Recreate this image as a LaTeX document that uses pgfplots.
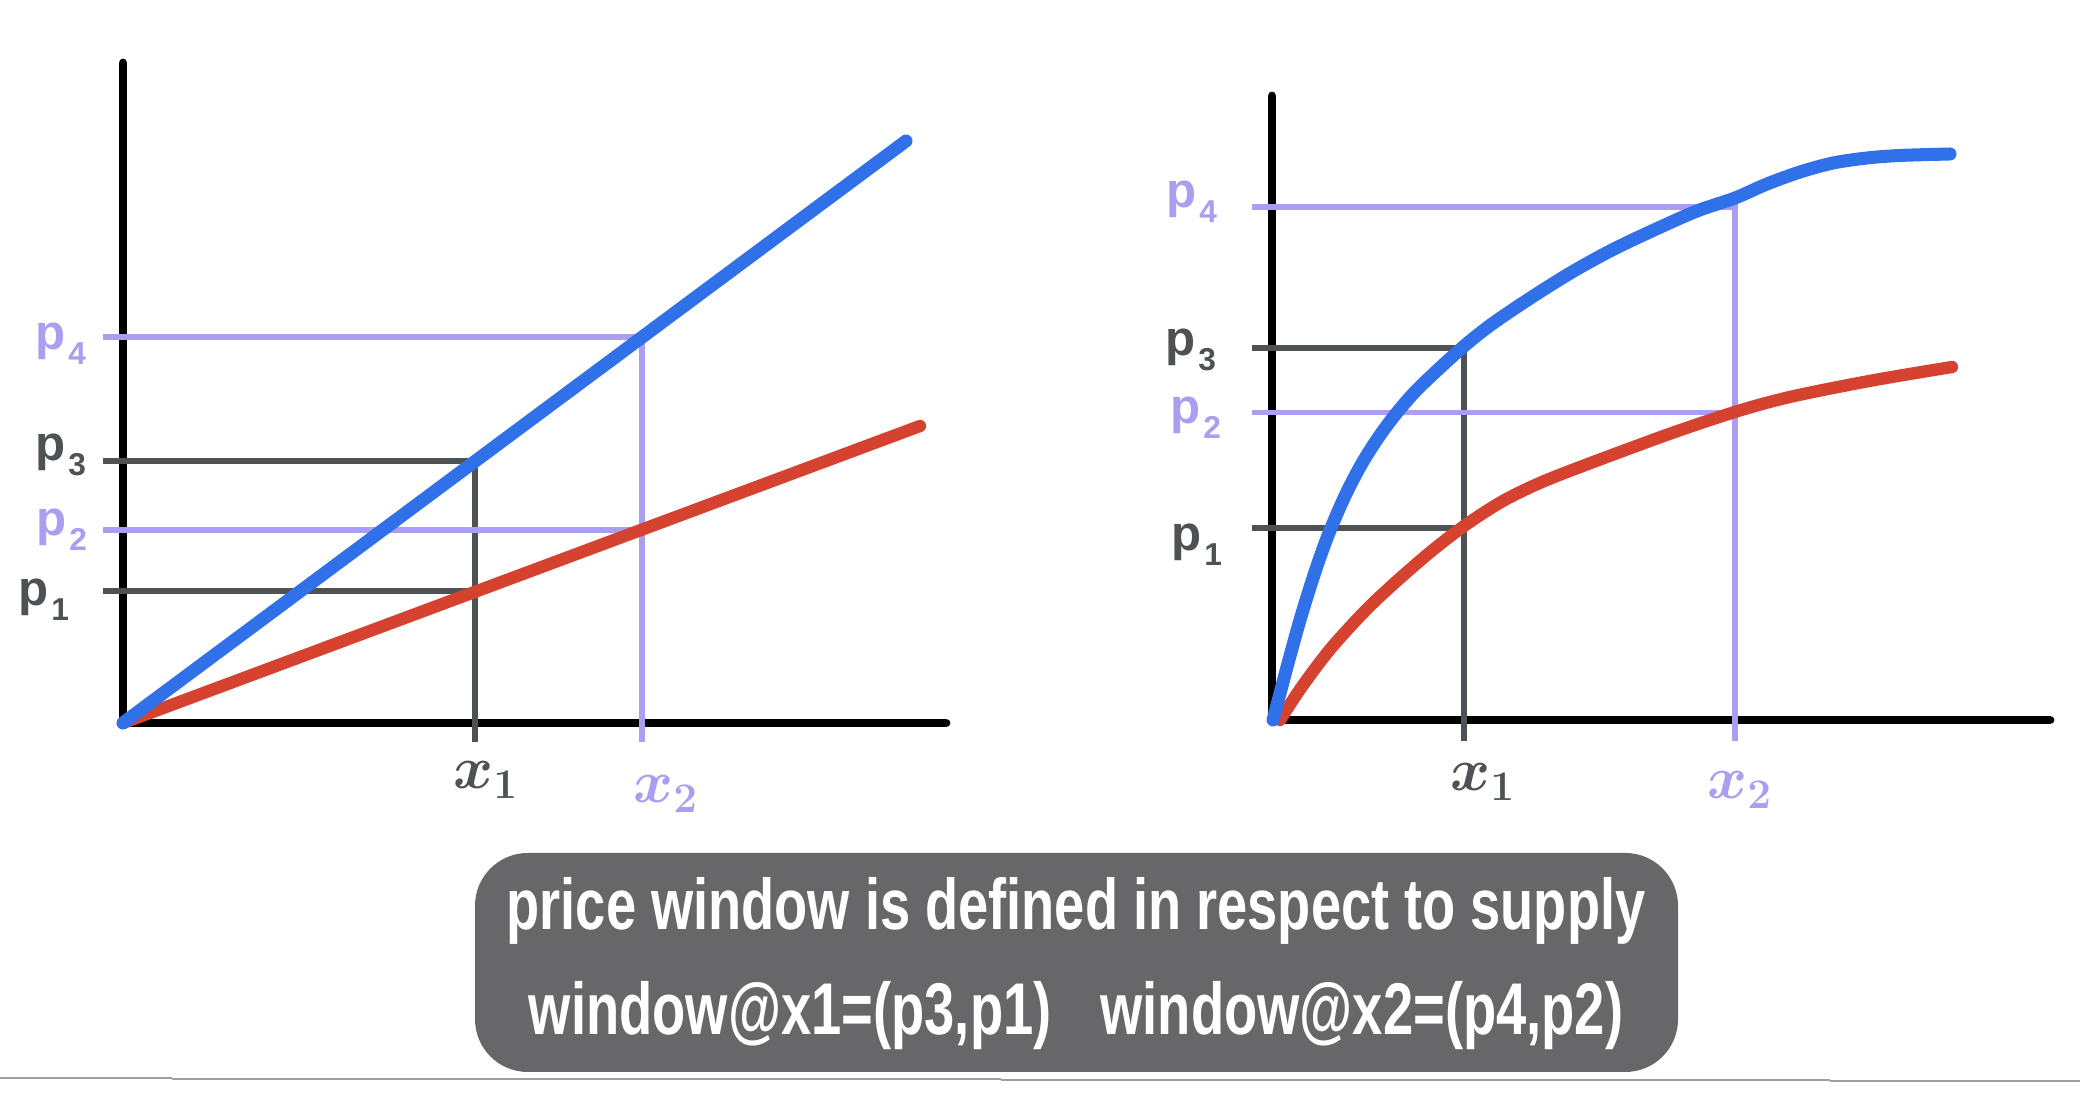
\documentclass[border=0pt]{standalone}
\usepackage{fontspec}
\setmainfont{Liberation Sans}
\usepackage{graphicx}
\usepackage{pgfplots}
\pgfplotsset{compat=1.18}

\definecolor{supblue}{RGB}{48,112,232}
\definecolor{supred}{RGB}{214,66,48}
\definecolor{lav}{RGB}{170,158,240}
\definecolor{guide}{RGB}{78,82,84}
\definecolor{capbg}{RGB}{103,103,105}

% hand-written style labels
\newcommand\plab[1]{{\fontsize{14}{14}\selectfont\bfseries p\kern0.05em\raisebox{-0.3em}{\fontsize{9}{9}\selectfont #1}}}
\newcommand\xlab[1]{{\fontsize{17}{17}\selectfont\boldmath$x_{#1}$}}

\pgfplotsset{
  sketch/.style={
    x=0.01cm, y=0.01cm,
    anchor=south west,
    axis lines=left,
    axis line style={-, line width=2.5pt, line cap=round, black},
    xtick=\empty, ytick=\empty,
    clip=false,
  },
  guideline/.style={guide, line width=1.5pt, no marks},
  lavline/.style={lav, line width=1.5pt, no marks},
  bluecurve/.style={supblue, line width=3.7pt, line cap=round, line join=round, no marks},
  redcurve/.style={supred, line width=3.5pt, line cap=round, line join=round, no marks},
}

\begin{document}
\begin{tikzpicture}[x=0.01cm, y=0.01cm]
\useasboundingbox (0,0) rectangle (2080,1110);

% left panel: linear supply
\begin{axis}[sketch, at={(123,387)}, xmin=0, xmax=823, ymin=0, ymax=660]
\addplot[guideline] coordinates {(-20,262) (352,262) (352,-19)};
\addplot[guideline] coordinates {(-20,132) (352,132)};
\addplot[lavline] coordinates {(-20,386) (519,386) (519,-19)};
\addplot[lavline] coordinates {(-20,193) (519,193)};
\addplot[redcurve] coordinates {(0,0) (797,297)};
\addplot[bluecurve] coordinates {(0,0) (783,582)};
\node[text=lav] at (axis cs:-62,379) {\plab{4}};
\node[text=guide] at (axis cs:-62,268) {\plab{3}};
\node[text=lav] at (axis cs:-61,193) {\plab{2}};
\node[text=guide] at (axis cs:-79,123) {\plab{1}};
\node[text=guide] at (axis cs:363,-57) {\xlab{1}};
\node[text=lav] at (axis cs:543,-71) {\xlab{2}};
\end{axis}

% right panel: concave supply
\begin{axis}[sketch, at={(1272,390)}, xmin=0, xmax=778, ymin=0, ymax=624]
\addplot[guideline] coordinates {(-20,372) (192,372) (192,-21)};
\addplot[guideline] coordinates {(-20,192) (192,192)};
\addplot[lavline] coordinates {(-20,513) (463,513) (463,-21)};
\addplot[lavline] coordinates {(-20,307.5) (463,307.5)};
\addplot[redcurve, smooth] coordinates {
  (8,0) (30,33.5) (60,73) (100,116) (150,161) (190,192.5) (230,218.5)
  (270,238) (320,257.5) (400,287) (466,309) (520,323.5) (600,339.5) (680,353)};
\addplot[bluecurve, smooth] coordinates {
  (1,0) (15,53) (28,100) (41,142) (55,182) (72,222) (89,255) (106,282)
  (123,305) (140,325) (157,342) (191,373) (220,396) (260,423) (300,448)
  (340,470) (382,490) (425,509) (463,522) (495,536) (528,548) (561,557)
  (595,562) (628,564.5) (678,566)};
\node[text=lav] at (axis cs:-80,518) {\plab{4}};
\node[text=guide] at (axis cs:-81,370) {\plab{3}};
\node[text=lav] at (axis cs:-76,302) {\plab{2}};
\node[text=guide] at (axis cs:-75,175) {\plab{1}};
\node[text=guide] at (axis cs:211,-62) {\xlab{1}};
\node[text=lav] at (axis cs:468,-70) {\xlab{2}};
\end{axis}

% caption box
\fill[capbg, rounded corners=15] (475,38) rectangle (1678,257);
\node[anchor=base, inner sep=0, text=white] at (1076,180)
  {\resizebox{323.8pt}{14.8pt}{\fontsize{20.7}{24}\selectfont\bfseries price window is defined in respect to supply}};
\node[anchor=base, inner sep=0, text=white] at (1076,75)
  {\resizebox{311.2pt}{15.1pt}{\fontsize{20.7}{24}\selectfont\bfseries window@x1=(p3,p1)\hspace{0.9em}window@x2=(p4,p2)}};
% thin stepped rule at the bottom edge
\draw[gray!75, line width=0.6pt] (0,32) -- (172,32) (172,31) -- (1001,31)
  (1001,30) -- (1830,30) (1830,29) -- (2080,29);
\end{tikzpicture}
\end{document}
